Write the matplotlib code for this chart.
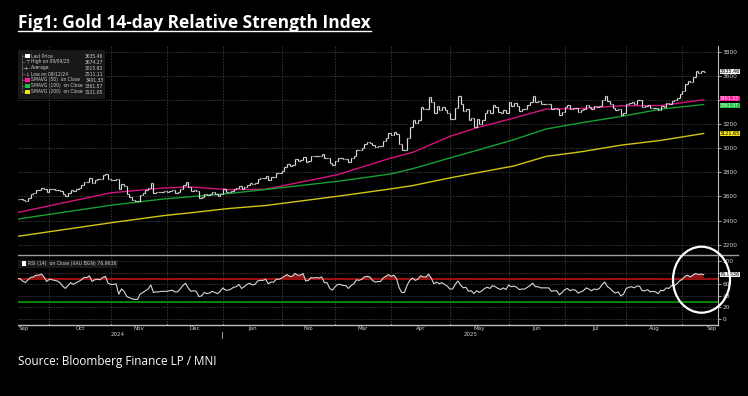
import matplotlib
matplotlib.use('Agg')
import matplotlib.pyplot as plt
import numpy as np
import pandas as pd
from matplotlib.patches import Ellipse, Rectangle
from matplotlib.lines import Line2D

# ---------------- data ----------------
close_2024_09 = [2558, 2578, 2582, 2569, 2559, 2587, 2622, 2628, 2657, 2657, 2672, 2658, 2634]
close_2024_10 = [2662, 2659, 2656, 2653, 2644, 2622, 2608, 2630, 2657, 2649, 2662, 2674, 2693, 2721,
                 2720, 2749, 2715, 2736, 2747, 2743, 2774, 2788, 2744]
close_2024_11 = [2736, 2736, 2743, 2659, 2706, 2685, 2618, 2598, 2573, 2565, 2563, 2612, 2631, 2650,
                 2670, 2715, 2626, 2633, 2636, 2639, 2643]
close_2024_12 = [2640, 2643, 2650, 2632, 2633, 2660, 2694, 2718, 2681, 2648, 2652, 2646, 2586, 2594,
                 2622, 2612, 2617, 2633, 2621, 2606, 2624]
close_2025_01 = [2658, 2640, 2636, 2649, 2662, 2670, 2690, 2663, 2677, 2697, 2715, 2702, 2708, 2745,
                 2755, 2754, 2770, 2740, 2763, 2760, 2795, 2798]
close_2025_02 = [2815, 2842, 2866, 2856, 2861, 2908, 2898, 2904, 2929, 2883, 2897, 2935, 2933, 2939,
                 2936, 2952, 2915, 2916, 2875, 2858]
close_2025_03 = [2893, 2918, 2920, 2910, 2910, 2889, 2917, 2934, 2988, 2984, 3001, 3034, 3048, 3044,
                 3023, 3011, 3019, 3020, 3057, 3085, 3124]
close_2025_04 = [3112, 3134, 3114, 3037, 2982, 2983, 3082, 3175, 3237, 3211, 3230, 3343, 3327, 3327,
                 3425, 3381, 3289, 3349, 3319, 3344, 3317, 3288]
close_2025_05 = [3239, 3241, 3334, 3431, 3366, 3306, 3325, 3236, 3249, 3177, 3240, 3202, 3230, 3290,
                 3314, 3295, 3357, 3342, 3301, 3288, 3318, 3289]
close_2025_06 = [3381, 3353, 3373, 3353, 3310, 3326, 3323, 3355, 3387, 3433, 3385, 3388, 3369, 3370,
                 3368, 3368, 3323, 3333, 3328, 3274, 3303]
close_2025_07 = [3338, 3357, 3326, 3337, 3336, 3301, 3313, 3325, 3355, 3344, 3324, 3347, 3339, 3350,
                 3397, 3432, 3388, 3368, 3337, 3314, 3326, 3274, 3290]
close_2025_08 = [3363, 3373, 3381, 3369, 3396, 3398, 3342, 3348, 3356, 3335, 3336, 3332, 3316, 3348,
                 3339, 3372, 3365, 3393, 3397, 3416, 3448]
close_2025_09 = [3477, 3533, 3560, 3545, 3586, 3636, 3626, 3640, 3635]

# 14-day RSI, one value per trading day (same order as the closes)
rsi_values = [67, 70, 70, 66, 63, 68, 72, 73, 76, 76, 78, 73, 65, 69, 68, 67, 66, 63, 57, 53, 58, 63, 60,
              63, 65, 68, 72, 72, 75, 65, 68, 69, 68, 72, 74, 62, 60, 60, 61, 43, 52, 48, 39, 37, 35, 34,
              34, 43, 46, 49, 52, 59, 46, 47, 47, 48, 48, 48, 49, 50, 47, 47, 52, 58, 62, 54, 48, 49, 48,
              39, 40, 46, 44, 45, 48, 46, 44, 48, 54, 50, 50, 52, 55, 56, 60, 53, 56, 60, 62, 59, 60, 66,
              67, 67, 69, 61, 64, 64, 69, 69, 71, 74, 77, 74, 74, 79, 76, 76, 79, 66, 67, 72, 71, 72, 71,
              73, 63, 63, 53, 50, 56, 60, 60, 58, 58, 53, 58, 61, 68, 67, 69, 73, 74, 73, 67, 64, 65, 65,
              71, 74, 77, 74, 76, 70, 54, 46, 46, 59, 67, 71, 67, 69, 75, 73, 73, 78, 71, 61, 64, 61, 63,
              60, 57, 52, 52, 60, 66, 59, 54, 55, 48, 49, 44, 49, 46, 49, 53, 55, 53, 58, 56, 53, 51, 54,
              51, 59, 56, 57, 55, 51, 52, 52, 55, 58, 62, 56, 56, 54, 54, 54, 54, 48, 49, 49, 42, 46, 51,
              53, 49, 51, 50, 45, 47, 49, 54, 52, 49, 52, 51, 53, 60, 64, 56, 53, 48, 45, 47, 40, 43, 53,
              55, 56, 54, 57, 57, 49, 49, 51, 47, 48, 47, 44, 50, 49, 54, 53, 58, 58, 61, 66, 69, 74, 76,
              73, 76, 79, 77, 78, 77]

month_spans = [('2024-09-12', '2024-09-30', close_2024_09), ('2024-10-01', '2024-10-31', close_2024_10),
               ('2024-11-01', '2024-11-30', close_2024_11), ('2024-12-01', '2024-12-31', close_2024_12),
               ('2025-01-01', '2025-01-31', close_2025_01), ('2025-02-01', '2025-02-28', close_2025_02),
               ('2025-03-01', '2025-03-31', close_2025_03), ('2025-04-01', '2025-04-30', close_2025_04),
               ('2025-05-01', '2025-05-31', close_2025_05), ('2025-06-01', '2025-06-30', close_2025_06),
               ('2025-07-01', '2025-07-31', close_2025_07), ('2025-08-01', '2025-08-31', close_2025_08),
               ('2025-09-01', '2025-09-11', close_2025_09)]
holidays = pd.to_datetime(['2024-12-25', '2025-01-01'])
month_names = ['Sep', 'Oct', 'Nov', 'Dec', 'Jan', 'Feb', 'Mar', 'Apr', 'May', 'Jun', 'Jul', 'Aug', 'Sep']

# moving averages read at knots (trading-day index)
sma_idx = [0, 36, 56, 66, 80, 94, 121, 141, 149, 163, 174, 187, 199, 212, 227, 242, 258]
sma50 = [2462, 2630, 2671, 2679, 2657, 2660, 2781, 2919, 2965, 3098, 3175, 3250, 3324, 3329, 3351, 3354, 3401]
sma100 = [2409, 2527, 2580, 2598, 2624, 2658, 2726, 2787, 2830, 2919, 2988, 3071, 3159, 3210, 3263, 3324, 3362]
sma200 = [2266, 2382, 2442, 2465, 2500, 2525, 2602, 2663, 2690, 2754, 2800, 2853, 2932, 2970, 3025, 3065, 3122]

legend_rows = [('Last Price', '3635.46'), ('High on 09/09/25', '3674.27'), ('Average', '3015.92'),
               ('Low on 09/12/24', '2511.11'), ('SMAVG (50)  on Close', '3401.33'),
               ('SMAVG (100)  on Close', '3361.57'), ('SMAVG (200)  on Close', '3121.65')]
price_ticks = [2200, 2400, 2600, 2800, 3000, 3200, 3400, 3600, 3800]
price_tick_labels = ['2200', '2400', '2600', '2800', '3000', '3200', '', '3600', '3800']
rsi_ticks = [0, 20, 40, 60, 80, 100]
rsi_tick_labels = ['0', '20', '40', '60', '', '100']

# ---------------- build index ----------------
dates, closes, month_first, month_last = [], [], [], []
for start, end, vals in month_spans:
    d = pd.bdate_range(start, end)
    d = d[~d.isin(holidays)]
    assert len(d) == len(vals), (start, len(d), len(vals))
    month_first.append(len(closes))
    dates.extend(d)
    closes.extend(vals)
    month_last.append(len(closes) - 1)
closes = np.array(closes, float)
n = len(closes)
x = np.arange(n)
rsi = np.array(rsi_values, float)
assert len(rsi) == n

# ---------------- figure ----------------
W, H = 748, 396
fig = plt.figure(figsize=(W / 100, H / 100), dpi=100, facecolor='black')
def fx(px): return px / W
def fy(py): return 1 - py / H

XL, XR = 17.7, 718.3
ax = fig.add_axes([fx(XL), fy(255), (XR - XL) / W, (255 - 46) / H], facecolor='black')
axr = fig.add_axes([fx(XL), fy(325), (XR - XL) / W, (325 - 255) / H], facecolor='black')

xmin, xmax = 1.16, 263.5
grid_c = '#3a3a3a'
txt_c = '#cfcfcf'
for a in (ax, axr):
    a.set_xlim(xmin, xmax)
    for s in ('top', 'left', 'bottom', 'right'):
        a.spines[s].set_visible(False)
    a.spines['right'].set_visible(True)
    a.spines['right'].set_color('#bdbdbd')
    a.spines['right'].set_linewidth(0.8)
    a.yaxis.tick_right()
    a.tick_params(axis='y', colors='#bdbdbd', labelcolor=txt_c, labelsize=4.2, length=2, width=0.6, pad=1)
    a.tick_params(axis='x', bottom=False, labelbottom=False)
    for mf in month_first[1:]:
        a.axvline(mf, color=grid_c, lw=0.6, ls=(0, (2, 1.5)), zorder=0)

# price panel
ax.set_ylim(2115, 3847)
ax.set_yticks(price_ticks)
ax.set_yticklabels(price_tick_labels)
for t in price_ticks:
    ax.axhline(t, color=grid_c, lw=0.6, ls=(0, (2, 1.5)), zorder=0)

opens = np.concatenate([[closes[0]], closes[:-1]])
bar_c = '#dcdcdc'
ax.vlines(x, np.minimum(opens, closes), np.maximum(opens, closes), color=bar_c, lw=0.85, zorder=3)
ax.hlines(opens, x - 0.45, x, color=bar_c, lw=0.85, zorder=3)
ax.hlines(closes, x, x + 0.45, color=bar_c, lw=0.85, zorder=3)

c50, c100, c200 = '#d4137f', '#16a034', '#d2c614'
ax.plot(sma_idx, sma50, color=c50, lw=1.0, zorder=2)
ax.plot(sma_idx, sma100, color=c100, lw=1.0, zorder=2)
ax.plot(sma_idx, sma200, color=c200, lw=1.0, zorder=2)

def vbox(ypx, label, fc, tc, fs=3.5):
    fig.add_artist(Rectangle((fx(719.5), fy(ypx + 2.6)), 20 / W, 5.2 / H, transform=fig.transFigure,
                             fc=fc, ec='none', zorder=8))
    fig.text(fx(729.5), fy(ypx), label, ha='center', va='center', fontsize=fs, color=tc, zorder=9)

def price_px(v): return 46 + (3847 - v) / (3847 - 2115) * (255 - 46)
def rsi_px(v): return 255 + (111 - v) / (111 + 10.4) * (325 - 255)

vbox(price_px(3635.46), '3635.46', '#f0f0f0', 'black')
vbox(price_px(3401.33) - 1.6, '3401.33', '#ff1a9c', 'white', 3.3)
vbox(price_px(3361.57) + 1.0, '3361.57', '#1fc03f', 'white', 3.3)
vbox(price_px(3121.65), '3121.65', '#f2e21a', 'black')

# RSI panel
axr.set_ylim(-10.4, 111)
axr.set_yticks(rsi_ticks)
axr.set_yticklabels(rsi_tick_labels)
for t in rsi_ticks:
    axr.axhline(t, color=grid_c, lw=0.6, ls=(0, (2, 1.5)), zorder=0)
axr.axhline(70, color='#b01010', lw=1.3, zorder=1)
axr.axhline(30, color='#0c8f0c', lw=1.3, zorder=1)
axr.fill_between(x, rsi, 70, where=rsi > 70, interpolate=True, color='#8c1414', lw=0, zorder=2)
axr.plot(x, rsi, color='#d6d6d6', lw=0.8, zorder=3)
axr.spines['bottom'].set_visible(True)
axr.spines['bottom'].set_color('#bdbdbd')
axr.spines['bottom'].set_linewidth(1.0)
vbox(rsi_px(76.9636), '76.9636', '#f0f0f0', 'black')
for mf in month_first[1:]:
    axr.plot([mf, mf], [-10.4, -8.0], color='#bdbdbd', lw=0.6, zorder=4, clip_on=False)

# month labels
def idx2px(i): return XL + (i - xmin) / (xmax - xmin) * (XR - XL)
lab_y = fy(328.5)
for k, nm in enumerate(month_names):
    if k == 0:
        fig.text(fx(XL + 0.5), lab_y, nm, ha='left', va='center', fontsize=4, color=txt_c)
    elif k == len(month_names) - 1:
        fig.text(fx(XR - 1), lab_y, nm, ha='right', va='center', fontsize=4, color=txt_c)
    else:
        mid = (month_first[k] + month_last[k]) / 2 + 0.5
        fig.text(fx(idx2px(mid)), lab_y, nm, ha='center', va='center', fontsize=4, color=txt_c)
fig.text(fx(idx2px((0 + 77) / 2)), fy(334.5), '2024', ha='center', va='center', fontsize=4, color=txt_c)
fig.text(fx(idx2px((78 + xmax) / 2)), fy(334.5), '2025', ha='center', va='center', fontsize=4, color=txt_c)
fig.add_artist(Line2D([fx(idx2px(77.5))] * 2, [fy(331.5), fy(337.5)], color='#bdbdbd', lw=0.6))

# separator line
fig.add_artist(Line2D([fx(18), fx(738)], [fy(255), fy(255)], color='#9a9a9a', lw=1.0, zorder=5))

# legend box (price)
fig.add_artist(Rectangle((fx(18), fy(98.5)), (105 - 18) / W, (98.5 - 49.5) / H, transform=fig.transFigure,
                         fc='#1b1b1b', ec='none', alpha=0.92, zorder=6))
row_y = [56, 62, 68, 74, 80, 86, 92]
sq_cols = ['#ffffff', None, None, None, '#ff1a9c', '#1fc03f', '#f2e21a']
icons = [None, '⊤', '-+-', '↓', None, None, None]
fig.add_artist(Line2D([fx(22), fx(22)], [fy(54), fy(92)], color='#777777', lw=0.4, zorder=7))
leg_texts = []
for (lab, val), yy, sc, ic in zip(legend_rows, row_y, sq_cols, icons):
    fig.add_artist(Line2D([fx(22), fx(24.5)], [fy(yy), fy(yy)], color='#777777', lw=0.4, zorder=7))
    if sc:
        fig.add_artist(Rectangle((fx(25), fy(yy + 2.3)), 4.6 / W, 4.6 / H, transform=fig.transFigure,
                                 fc=sc, ec='none', zorder=7))
    else:
        fig.text(fx(27.3), fy(yy), ic, ha='center', va='center', fontsize=3.4, color=txt_c, zorder=7)
    t1 = fig.text(fx(31), fy(yy), lab, ha='left', va='center', fontsize=3.9, color=txt_c, zorder=7)
    t2 = fig.text(fx(103.5), fy(yy), val, ha='right', va='center', fontsize=3.9, color=txt_c, zorder=7)
    leg_texts.append((t1, t2))

# legend box (RSI)
fig.add_artist(Rectangle((fx(18), fy(267.5)), (118 - 18) / W, 8 / H, transform=fig.transFigure,
                         fc='#1b1b1b', ec='none', alpha=0.92, zorder=6))
fig.add_artist(Rectangle((fx(22), fy(265.8)), 4.4 / W, 4.4 / H, transform=fig.transFigure,
                         fc='#ffffff', ec='none', zorder=7))
rsi_leg = fig.text(fx(27.5), fy(263.6), 'RSI (14)  on Close (XAU BGN) 76.9636', ha='left', va='center',
                   fontsize=3.9, color=txt_c, zorder=7)

# highlight circle
fig.add_artist(Ellipse((fx(701.5), fy(279.7)), 57 / W, 66 / H, transform=fig.transFigure,
                       fill=False, ec='white', lw=1.6, zorder=20))

# title and source
title = fig.text(fx(18), fy(28.3), 'Fig1: Gold 14-day Relative Strength Index', ha='left', va='baseline',
                 fontsize=12.5, fontweight='bold', family=['Open Sans', 'DejaVu Sans'], color='white')
src = fig.text(fx(18), fy(365), 'Source: Bloomberg Finance LP / MNI', ha='left', va='baseline',
               fontsize=9, family=['Open Sans', 'DejaVu Sans'], color='white')
fig.canvas.draw()
r = fig.canvas.get_renderer()
for t, wt in ((title, 354), (src, 200)):
    bb = t.get_window_extent(r)
    t.set_fontsize(t.get_fontsize() * wt / bb.width)
# legend font: longest label must fit 52 px
bbl = leg_texts[5][0].get_window_extent(r)
lfs = 3.9 * 52 / bbl.width
for t1, t2 in leg_texts:
    t1.set_fontsize(lfs)
    t2.set_fontsize(lfs)
bbr = rsi_leg.get_window_extent(r)
rsi_leg.set_fontsize(3.9 * 88 / bbr.width)
fig.canvas.draw()
bb = title.get_window_extent(r)
fig.add_artist(Line2D([bb.x0 / W, bb.x1 / W], [fy(30.8), fy(30.8)], color='white', lw=1.0))

fig.savefig('out.png', dpi=100, facecolor='black')
